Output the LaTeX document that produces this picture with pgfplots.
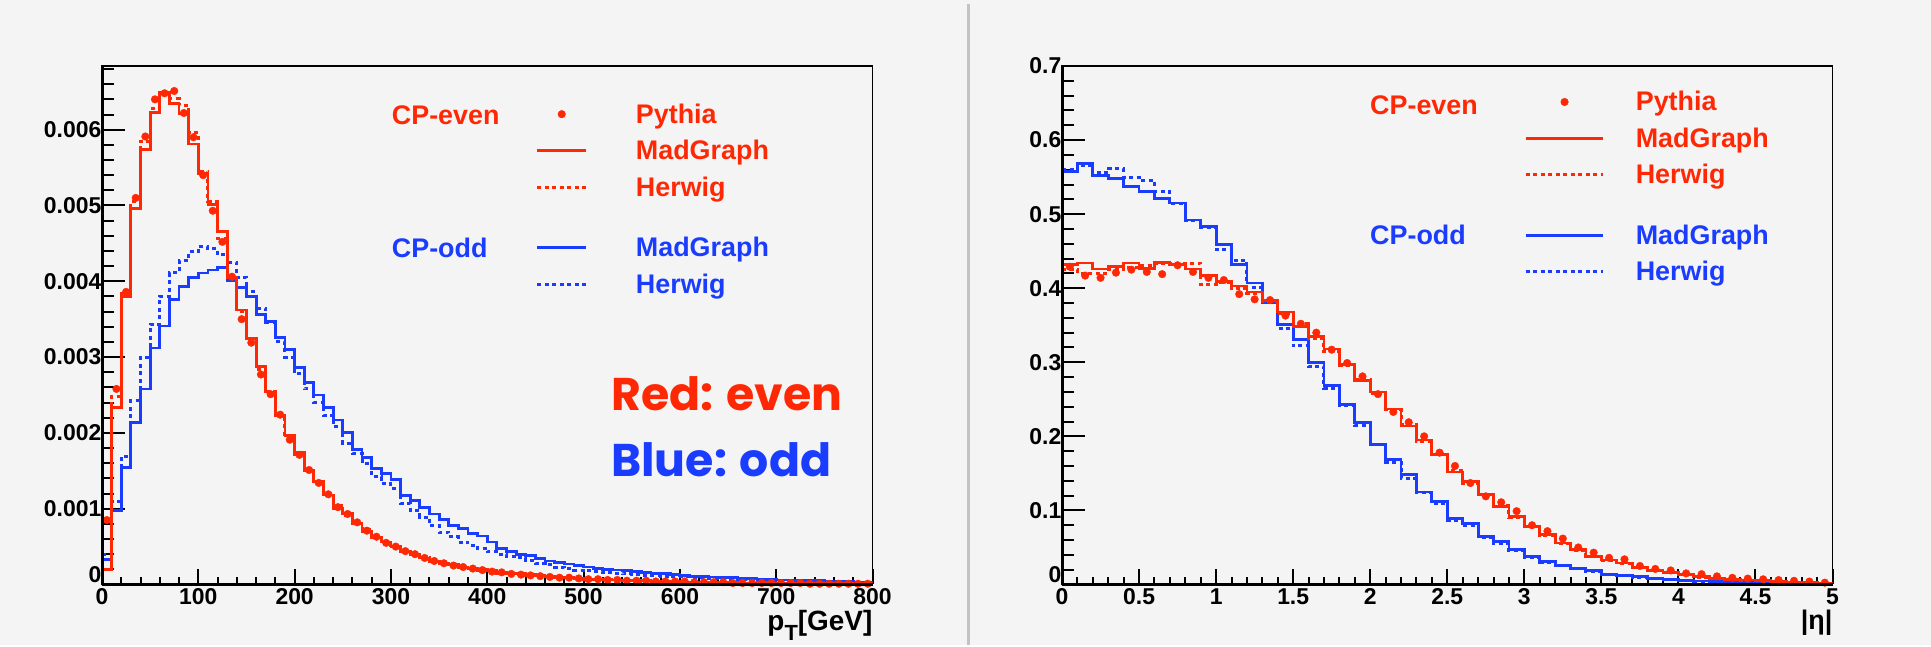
\documentclass[border=0pt]{standalone}
\usepackage{pgfplots}
\usepackage{pgfplotstable}
\pgfplotsset{compat=1.18}
\usepackage{fontspec}
\setmainfont{Liberation Sans}
\newfontfamily\comicfont{Poppins}
\definecolor{myred}{RGB}{255,40,5}
\definecolor{myblue}{RGB}{25,60,255}
\definecolor{bgcol}{RGB}{244,244,244}
\definecolor{sepcol}{RGB}{195,195,195}
\newcommand{\tickfont}{\fontsize{23}{23}\selectfont\bfseries}
\newcommand{\legfont}{\fontsize{27}{30}\selectfont\bfseries}
\newcommand{\yzero}{\raisebox{10bp}[\height][\depth]{0}}

\pgfplotstableread{
x rm rh rp bm bh
0 0.00020 0.00020 0.00085 0.00033 0.00040
10 0.00234 0.00248 0.00258 0.00098 0.00109
20 0.00380 0.00384 0.00386 0.00154 0.00169
30 0.00496 0.00505 0.00510 0.00214 0.00243
40 0.00574 0.00585 0.00591 0.00258 0.00300
50 0.00623 0.00628 0.00640 0.00312 0.00343
60 0.00649 0.00648 0.00648 0.00341 0.00380
70 0.00634 0.00641 0.00651 0.00376 0.00411
80 0.00621 0.00632 0.00622 0.00393 0.00427
90 0.00581 0.00596 0.00590 0.00405 0.00439
100 0.00542 0.00545 0.00540 0.00411 0.00446
110 0.00501 0.00505 0.00493 0.00415 0.00443
120 0.00466 0.00457 0.00452 0.00418 0.00435
130 0.00405 0.00406 0.00406 0.00401 0.00425
140 0.00362 0.00360 0.00350 0.00392 0.00405
150 0.00325 0.00325 0.00319 0.00380 0.00386
160 0.00288 0.00283 0.00277 0.00356 0.00364
170 0.00254 0.00255 0.00251 0.00347 0.00345
180 0.00223 0.00222 0.00224 0.00326 0.00320
190 0.00197 0.00195 0.00191 0.00310 0.00300
200 0.00174 0.00172 0.00171 0.00286 0.00278
210 0.00150 0.00153 0.00151 0.00266 0.00258
220 0.00136 0.00134 0.00134 0.00250 0.00240
230 0.00118 0.00120 0.00119 0.00234 0.00223
240 0.00100 0.00104 0.00102 0.00217 0.00208
250 0.00094 0.00091 0.00093 0.00201 0.00186
260 0.00081 0.00080 0.00082 0.00178 0.00173
270 0.00070 0.00072 0.00071 0.00168 0.00160
280 0.00062 0.00062 0.00063 0.00153 0.00142
290 0.00056 0.00055 0.00055 0.00146 0.00133
300 0.00050 0.00049 0.00050 0.00138 0.00126
310 0.00043 0.00044 0.00044 0.00117 0.00107
320 0.00039 0.00039 0.00040 0.00111 0.00098
330 0.00035 0.00035 0.00035 0.00102 0.00089
340 0.00030 0.00031 0.00031 0.00093 0.00078
350 0.00028 0.00028 0.00028 0.00086 0.00069
360 0.00026 0.00025 0.00025 0.00078 0.00063
370 0.00023 0.00022 0.00023 0.00074 0.00056
380 0.00021 0.00020 0.00021 0.00067 0.00052
390 0.00020 0.00018 0.00019 0.00064 0.00048
400 0.00018 0.00017 0.00017 0.00056 0.00043
410 0.00016 0.00015 0.00016 0.00048 0.00040
420 0.00015 0.00014 0.00014 0.00043 0.00037
430 0.00014 0.00013 0.00013 0.00040 0.00035
440 0.00013 0.00012 0.00012 0.00038 0.00031
450 0.00012 0.00011 0.00011 0.00034 0.00028
460 0.00010 0.00010 0.00010 0.00031 0.00026
470 0.00009 0.00009 0.00009 0.00029 0.00023
480 0.00009 0.00008 0.00009 0.00027 0.00021
490 0.00008 0.00008 0.00008 0.00025 0.00019
500 0.00007 0.00007 0.00007 0.00023 0.00018
510 0.00007 0.00007 0.00007 0.00021 0.00017
520 0.00006 0.00006 0.00006 0.00020 0.00016
530 0.00006 0.00006 0.00006 0.00019 0.00015
540 0.00005 0.00005 0.00005 0.00018 0.00014
550 0.00005 0.00005 0.00005 0.00017 0.00013
560 0.00005 0.00004 0.00005 0.00016 0.00012
570 0.00004 0.00004 0.00004 0.00015 0.00012
580 0.00004 0.00004 0.00004 0.00014 0.00011
590 0.00004 0.00004 0.00004 0.00013 0.00010
600 0.00003 0.00003 0.00004 0.00012 0.00010
610 0.00003 0.00003 0.00003 0.00011 0.00009
620 0.00003 0.00003 0.00003 0.00011 0.00009
630 0.00003 0.00003 0.00003 0.00010 0.00008
640 0.00003 0.00002 0.00003 0.00009 0.00008
650 0.00002 0.00002 0.00002 0.00009 0.00007
660 0.00002 0.00002 0.00002 0.00008 0.00007
670 0.00002 0.00002 0.00002 0.00008 0.00006
680 0.00002 0.00002 0.00002 0.00007 0.00006
690 0.00002 0.00002 0.00002 0.00007 0.00006
700 0.00002 0.00002 0.00002 0.00006 0.00005
710 0.00002 0.00001 0.00002 0.00006 0.00005
720 0.00001 0.00001 0.00002 0.00005 0.00005
730 0.00001 0.00001 0.00001 0.00005 0.00004
740 0.00001 0.00001 0.00001 0.00005 0.00004
750 0.00001 0.00001 0.00001 0.00004 0.00004
760 0.00001 0.00001 0.00001 0.00004 0.00003
770 0.00001 0.00001 0.00001 0.00004 0.00003
780 0.00001 0.00001 0.00001 0.00003 0.00003
790 0.00001 0.00001 0.00001 0.00003 0.00003
800 0.00001 0.00001 nan 0.00003 0.00003
}\ptdata

\pgfplotstableread{
x rm rh rp bm bh
0.0 0.432 0.425 0.429 0.558 0.560
0.1 0.434 0.420 0.417 0.568 0.565
0.2 0.426 0.420 0.414 0.552 0.556
0.3 0.429 0.425 0.421 0.548 0.561
0.4 0.434 0.428 0.425 0.537 0.549
0.5 0.427 0.431 0.422 0.531 0.545
0.6 0.435 0.433 0.419 0.521 0.531
0.7 0.432 0.434 0.431 0.515 0.515
0.8 0.426 0.434 0.422 0.492 0.491
0.9 0.417 0.405 0.414 0.483 0.482
1.0 0.409 0.408 0.411 0.459 0.452
1.1 0.403 0.400 0.392 0.432 0.437
1.2 0.395 0.393 0.385 0.407 0.401
1.3 0.383 0.382 0.384 0.380 0.383
1.4 0.368 0.366 0.363 0.351 0.346
1.5 0.348 0.352 0.352 0.331 0.322
1.6 0.335 0.332 0.340 0.300 0.294
1.7 0.318 0.314 0.317 0.269 0.265
1.8 0.297 0.296 0.299 0.243 0.242
1.9 0.275 0.277 0.281 0.219 0.215
2.0 0.260 0.258 0.257 0.189 0.189
2.1 0.237 0.236 0.233 0.169 0.165
2.2 0.214 0.216 0.219 0.148 0.143
2.3 0.195 0.193 0.200 0.125 0.124
2.4 0.176 0.175 0.178 0.112 0.110
2.5 0.152 0.154 0.160 0.089 0.087
2.6 0.139 0.137 0.137 0.082 0.079
2.7 0.122 0.121 0.119 0.065 0.063
2.8 0.105 0.106 0.111 0.058 0.056
2.9 0.092 0.090 0.099 0.047 0.046
3.0 0.078 0.078 0.080 0.038 0.037
3.1 0.067 0.066 0.072 0.031 0.030
3.2 0.056 0.056 0.062 0.026 0.025
3.3 0.047 0.046 0.050 0.022 0.021
3.4 0.038 0.038 0.043 0.019 0.018
3.5 0.033 0.033 0.036 0.014 0.014
3.6 0.029 0.028 0.034 0.012 0.012
3.7 0.023 0.023 0.025 0.011 0.010
3.8 0.019 0.019 0.021 0.008 0.008
3.9 0.016 0.016 0.019 0.007 0.007
4.0 0.013 0.013 0.015 0.0056 0.0055
4.1 0.011 0.010 0.014 0.0047 0.0045
4.2 0.008 0.008 0.011 0.0040 0.0038
4.3 0.007 0.007 0.009 0.0034 0.0032
4.4 0.006 0.006 0.008 0.0030 0.0028
4.5 0.005 0.005 0.007 0.0025 0.0023
4.6 0.004 0.004 0.006 0.0020 0.0019
4.7 0.003 0.003 0.005 0.0016 0.0015
4.8 0.0025 0.0025 0.004 0.0015 0.0013
4.9 0.002 0.002 0.0025 0.0010 0.0010
5.0 0.002 0.002 nan 0.0010 0.0010
}\etadata

\pgfplotsset{
  rootax/.style={
    scale only axis, width=770.5bp, height=518.5bp,
    anchor=south west,
    clip mode=individual,
    scaled x ticks=false, scaled y ticks=false,
    axis background/.style={fill=bgcol},
    axis line style={black, line width=1.3bp},
    tick pos=left, tick align=inside,
    major tick length=23bp, minor tick length=11.5bp,
    xtick style={/pgfplots/major tick length=15.5bp, /pgfplots/minor tick length=7.8bp},
    every tick/.style={black, line width=2bp},
    yticklabel style={font=\tickfont, anchor=east, inner sep=0pt, xshift=-0.5bp},
    xticklabel style={font=\tickfont, anchor=north, inner sep=0pt, yshift=-4bp},
    legend cell align=left,
  },
  histline/.style={const plot mark left, no markers, line width=2.8bp},
  histdot/.style={const plot mark left, no markers, line width=3bp, dash pattern=on 4bp off 3.5bp},
}

\begin{document}
\begin{tikzpicture}[x=1bp,y=1bp]
\fill[bgcol] (0,0) rectangle (1931,645);
\draw[sepcol, line width=3bp] (968.5,0) -- (968.5,641);

% ---------- left panel: pT ----------
\begin{axis}[rootax, at={(102bp,60.5bp)},
  xmin=0, xmax=800, ymin=0, ymax=0.00684,
  xtick={0,100,200,300,400,500,600,700,800},
  xticklabels={0,100,200,300,400,500,600,700,800},
  minor x tick num=4,
  ytick={0,0.001,0.002,0.003,0.004,0.005,0.006},
  yticklabels={\yzero,0.001,0.002,0.003,0.004,0.005,0.006},
  minor ytick={0.0002,0.0004,0.0006,0.0008,0.0012,0.0014,0.0016,0.0018,0.0022,0.0024,0.0026,0.0028,0.0032,0.0034,0.0036,0.0038,0.0042,0.0044,0.0046,0.0048,0.0052,0.0054,0.0056,0.0058,0.0062,0.0064,0.0066,0.0068},
  legend style={draw=none, fill=none, inner sep=0pt, row sep=15.5bp, column sep=48.4bp,
    at={(0.5629,0.9277)}, anchor=north west, font=\legfont, nodes={inner sep=0pt}},
]
\addplot[forget plot, histline, myblue] table[x=x, y=bm] {\ptdata};
\addplot[forget plot, histdot, myblue] table[x=x, y=bh] {\ptdata};
\addplot[forget plot, histline, myred] table[x=x, y=rm] {\ptdata};
\addplot[forget plot, histdot, myred] table[x=x, y=rh] {\ptdata};
\addplot[forget plot, only marks, mark=*, mark size=3.8bp, myred, mark options={fill=myred, draw=myred}] table[x expr=\thisrow{x}+5, y=rp] {\ptdata};
\draw[line width=3bp] (rel axis cs:0,0) -- (rel axis cs:0,1);
\draw[line width=3bp] (rel axis cs:0,0) -- (rel axis cs:1,0);

\addlegendimage{legend image code/.code={\fill[myred] (24.3bp,0bp) circle (3.8bp);}}
\addlegendentry{\textcolor{myred}{Pythia}}
\addlegendimage{legend image code/.code={\draw[myred,line width=2.8bp] (0bp,0bp) -- (48.6bp,0bp);}}
\addlegendentry{\textcolor{myred}{MadGraph}}
\addlegendimage{legend image code/.code={\draw[myred,line width=3bp,dash pattern=on 4bp off 3.5bp] (0bp,0bp) -- (48.6bp,0bp);}}
\addlegendentry{\textcolor{myred}{Herwig}}
\addlegendimage{empty legend}
\addlegendentry{\rule{0pt}{7bp}}
\addlegendimage{legend image code/.code={\draw[myblue,line width=2.8bp] (0bp,0bp) -- (48.6bp,0bp);}}
\addlegendentry{\textcolor{myblue}{MadGraph}}
\addlegendimage{legend image code/.code={\draw[myblue,line width=3bp,dash pattern=on 4bp off 3.5bp] (0bp,0bp) -- (48.6bp,0bp);}}
\addlegendentry{\textcolor{myblue}{Herwig}}
\end{axis}

% ---------- right panel: |eta| ----------
\begin{axis}[rootax, at={(1062bp,60.5bp)},
  xmin=0, xmax=5, ymin=0, ymax=0.7,
  xtick={0,0.5,1,1.5,2,2.5,3,3.5,4,4.5,5},
  xticklabels={0,0.5,1,1.5,2,2.5,3,3.5,4,4.5,5},
  minor x tick num=4,
  ytick={0,0.1,0.2,0.3,0.4,0.5,0.6,0.7},
  yticklabels={\yzero,0.1,0.2,0.3,0.4,0.5,0.6,0.7},
  minor y tick num=4,
  legend style={draw=none, fill=none, inner sep=0pt, row sep=15.5bp, column sep=30.9bp,
    at={(0.5996,0.9512)}, anchor=north west, font=\legfont, nodes={inner sep=0pt}},
]
\addplot[forget plot, histline, myblue] table[x=x, y=bm] {\etadata};
\addplot[forget plot, histdot, myblue] table[x=x, y=bh] {\etadata};
\addplot[forget plot, histline, myred] table[x=x, y=rm] {\etadata};
\addplot[forget plot, histdot, myred] table[x=x, y=rh] {\etadata};
\addplot[forget plot, only marks, mark=*, mark size=3.8bp, myred, mark options={fill=myred, draw=myred}] table[x expr=\thisrow{x}+0.05, y=rp] {\etadata};
\draw[line width=3bp] (rel axis cs:0,0) -- (rel axis cs:0,1);
\draw[line width=3bp] (rel axis cs:0,0) -- (rel axis cs:1,0);

\addlegendimage{legend image code/.code={\fill[myred] (38.85bp,0bp) circle (3.8bp);}}
\addlegendentry{\textcolor{myred}{Pythia}}
\addlegendimage{legend image code/.code={\draw[myred,line width=2.8bp] (0bp,0bp) -- (77.7bp,0bp);}}
\addlegendentry{\textcolor{myred}{MadGraph}}
\addlegendimage{legend image code/.code={\draw[myred,line width=3bp,dash pattern=on 4bp off 3.5bp] (0bp,0bp) -- (77.7bp,0bp);}}
\addlegendentry{\textcolor{myred}{Herwig}}
\addlegendimage{empty legend}
\addlegendentry{\rule{0pt}{7bp}}
\addlegendimage{legend image code/.code={\draw[myblue,line width=2.8bp] (0bp,0bp) -- (77.7bp,0bp);}}
\addlegendentry{\textcolor{myblue}{MadGraph}}
\addlegendimage{legend image code/.code={\draw[myblue,line width=3bp,dash pattern=on 4bp off 3.5bp] (0bp,0bp) -- (77.7bp,0bp);}}
\addlegendentry{\textcolor{myblue}{Herwig}}
\end{axis}

% group labels
\node[anchor=base west, inner sep=0pt, font=\legfont, text=myred] at (391.7,520) {CP-even};
\node[anchor=base west, inner sep=0pt, font=\legfont, text=myblue] at (391.7,387) {CP-odd};
\node[anchor=base west, inner sep=0pt, font=\legfont, text=myred] at (1370,530) {CP-even};
\node[anchor=base west, inner sep=0pt, font=\legfont, text=myblue] at (1370,400.2) {CP-odd};

% big annotations
\node[anchor=base west, inner sep=0pt, text=myred, font=\comicfont\fontsize{46}{50}\selectfont\bfseries] at (611,234) {Red: even};
\node[anchor=base west, inner sep=0pt, text=myblue, font=\comicfont\fontsize{46}{50}\selectfont\bfseries] at (611,168) {Blue: odd};

% axis titles
\node[anchor=base east, inner sep=0pt, font=\fontsize{28}{28}\selectfont\bfseries] at (872.5,14)
  {p\raisebox{-10bp}{\fontsize{22}{22}\selectfont T}[GeV]};
\node[anchor=base east, inner sep=0pt, font=\fontsize{27}{27}\selectfont\bfseries] at (1832.5,15) {|η|};
\end{tikzpicture}
\end{document}
